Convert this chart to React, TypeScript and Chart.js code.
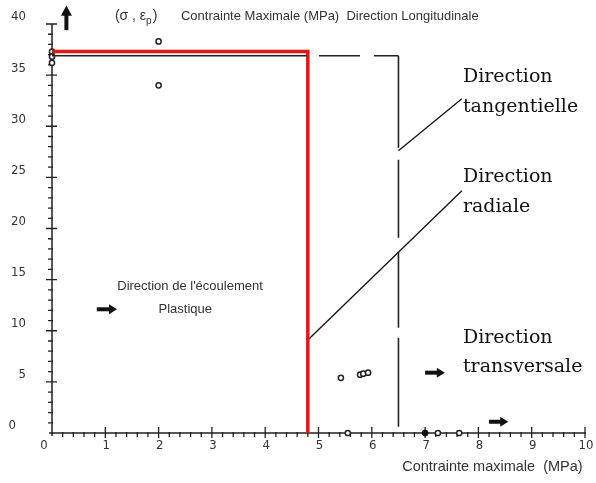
import React, { useEffect, useRef } from "react";
import { Chart, registerables } from "chart.js";

Chart.register(...registerables);

// ---- Data ----
const xTickLabels = ["0", "1", "2", "3", "4", "5", "6", "7", "8", "9", "10"];
const yTickLabels = ["0", "5", "10", "15", "20", "25", "30", "35", "40"];

// Direction radiale (red)
const radialX = [0, 4.8, 4.8];
const radialY = [37.3, 37.3, 0];

// Direction tangentielle (dashed): horizontal part and vertical part
const tangHX = [0, 6.5];
const tangHY = [36.9, 36.9];
const tangVX = [6.5, 6.5];
const tangVY = [36.9, 0.6];

// Measured points (open)
const pointsX = [0, 0, 0, 2, 2, 5.42, 5.78, 5.84, 5.93, 5.55, 7.24, 7.64];
const pointsY = [37.3, 36.8, 36.2, 38.3, 34.0, 5.4, 5.7, 5.8, 5.9, 0, 0, 0];
// Filled point
const filledX = [7.0];
const filledY = [0];

// Leader lines (label connectors)
const leaderTangX = [6.5, 7.69];
const leaderTangY = [27.6, 32.7];
const leaderRadX = [4.8, 7.69];
const leaderRadY = [9.1, 23.7];

const zip = (xs: number[], ys: number[]) => xs.map((x, i) => ({ x, y: ys[i] }));

export default function App() {
  const ref = useRef<HTMLCanvasElement | null>(null);

  useEffect(() => {
    document.body.style.margin = "0";
    const canvas = ref.current;
    if (!canvas) return;

    const serif = "'DejaVu Serif', 'Liberation Serif', serif";
    const sans = "'Liberation Sans', Arial, sans-serif";
    const narrow = "'Liberation Sans Narrow', 'DejaVu Sans Condensed', 'Liberation Sans', sans-serif";

    const arrowRight = (ctx: CanvasRenderingContext2D, x0: number, x1: number, y: number) => {
      ctx.save();
      ctx.fillStyle = "#111";
      const head = 8;
      ctx.fillRect(x0, y - 2, x1 - x0 - head + 1, 4);
      ctx.beginPath();
      ctx.moveTo(x1 - head, y - 5);
      ctx.lineTo(x1, y);
      ctx.lineTo(x1 - head, y + 5);
      ctx.closePath();
      ctx.fill();
      ctx.restore();
    };

    const decor = {
      id: "decor",
      beforeDatasetsDraw(chart: any) {
        const ctx: CanvasRenderingContext2D = chart.ctx;
        const xs = chart.scales.x;
        const ys = chart.scales.y;
        const X = (v: number) => xs.getPixelForValue(v);
        const Y = (v: number) => ys.getPixelForValue(v);
        ctx.save();
        ctx.strokeStyle = "#222";
        ctx.lineWidth = 1.5;
        // axes
        ctx.beginPath();
        ctx.moveTo(X(0), Y(40));
        ctx.lineTo(X(0), Y(0) + 3);
        ctx.moveTo(X(0) - 3, Y(0));
        ctx.lineTo(X(10) + 1, Y(0));
        ctx.stroke();
        // y ticks
        ctx.lineWidth = 1.3;
        ctx.beginPath();
        for (let v = 1; v <= 40; v++) {
          const py = Y(v);
          if (v % 5 === 0) {
            ctx.moveTo(X(0) - 6, py);
            ctx.lineTo(X(0) + 5, py);
          } else {
            ctx.moveTo(X(0) - 4, py);
            ctx.lineTo(X(0) + 1, py);
          }
        }
        // x ticks
        for (let i = 1; i <= 50; i++) {
          const v = i * 0.2;
          const px = X(v);
          if (i % 5 === 0) {
            ctx.moveTo(px, Y(0) - 6);
            ctx.lineTo(px, Y(0) + 5);
          } else {
            ctx.moveTo(px, Y(0) - 1);
            ctx.lineTo(px, Y(0) + 4);
          }
        }
        ctx.stroke();

        // tick labels
        ctx.fillStyle = "#333";
        ctx.font = `13px ${narrow}`;
        ctx.textBaseline = "middle";
        yTickLabels.forEach((t) => {
          const v = parseFloat(t);
          ctx.textAlign = "right";
          const rx = v === 0 ? X(0) - 36 : X(0) - 26;
          ctx.fillText(t, rx, Y(v) - 7);
        });
        xTickLabels.forEach((t) => {
          const v = parseFloat(t);
          ctx.textAlign = "center";
          const cx = v === 0 ? X(0) - 8 : X(v) + 1;
          ctx.fillText(t, cx, Y(0) + 13);
        });
        ctx.restore();
      },
      afterDatasetsDraw(chart: any) {
        const ctx: CanvasRenderingContext2D = chart.ctx;
        const xs = chart.scales.x;
        const ys = chart.scales.y;
        const X = (v: number) => xs.getPixelForValue(v);
        const Y = (v: number) => ys.getPixelForValue(v);
        ctx.save();
        ctx.textBaseline = "middle";

        // serif labels
        ctx.fillStyle = "#111";
        ctx.font = `19px ${serif}`;
        ctx.textAlign = "left";
        const lx = X(7.71);
        ctx.fillText("Direction", lx, Y(34.8));
        ctx.fillText("tangentielle", lx, Y(31.9));
        ctx.fillText("Direction", lx, Y(25.0));
        ctx.fillText("radiale", lx, Y(22.1));
        ctx.fillText("Direction", lx, Y(9.3));
        ctx.fillText("transversale", lx, Y(6.45));

        // top header
        ctx.fillStyle = "#333";
        ctx.font = `13px ${sans}`;
        ctx.fillText("Contrainte Maximale (MPa)  Direction Longitudinale", X(2.42), Y(40.7));
        ctx.font = `14px ${sans}`;
        const sx = X(1.18);
        const sy = Y(40.75);
        ctx.fillText("(σ , ε", sx, sy);
        const w = ctx.measureText("(σ , ε").width;
        ctx.font = `10px ${sans}`;
        ctx.fillText("p", sx + w, sy + 5);
        const w2 = ctx.measureText("p").width;
        ctx.font = `14px ${sans}`;
        ctx.fillText(")", sx + w + w2 + 1, sy);

        // up arrow
        ctx.fillStyle = "#111";
        const ax = X(0.27);
        ctx.fillRect(ax - 2, Y(41.2), 4, Y(39.4) - Y(41.2));
        ctx.beginPath();
        ctx.moveTo(ax - 5.5, Y(40.8));
        ctx.lineTo(ax, Y(41.8));
        ctx.lineTo(ax + 5.5, Y(40.8));
        ctx.closePath();
        ctx.fill();

        // plastic flow text
        ctx.fillStyle = "#333";
        ctx.font = `13px ${sans}`;
        ctx.textAlign = "center";
        ctx.fillText("Direction de l'écoulement", X(2.59), Y(14.3));
        ctx.fillText("Plastique", X(2.5), Y(12.1));

        // bottom axis title
        ctx.textAlign = "left";
        ctx.font = `14.5px ${sans}`;
        ctx.fillText("Contrainte maximale  (MPa)", X(6.57), Y(-3.3));

        // right arrows
        arrowRight(ctx, X(0.84), X(1.22), Y(12.1));
        arrowRight(ctx, X(7.0), X(7.37), Y(5.9));
        arrowRight(ctx, X(8.2), X(8.56), Y(1.1));
        ctx.restore();
      },
    };

    const chart = new Chart(canvas, {
      type: "scatter",
      data: {
        datasets: [
          {
            label: "Direction tangentielle (h)",
            data: zip(tangHX, tangHY),
            showLine: true,
            borderColor: "#222",
            borderWidth: 1.6,
            borderDash: [255, 12, 41, 14],
            pointRadius: 0,
            clip: false,
          } as any,
          {
            label: "Direction tangentielle (v)",
            data: zip(tangVX, tangVY),
            showLine: true,
            borderColor: "#222",
            borderWidth: 1.6,
            borderDash: [92, 12, 78, 14, 76, 10],
            pointRadius: 0,
            clip: false,
          } as any,
          {
            label: "Direction radiale",
            data: zip(radialX, radialY),
            showLine: true,
            borderColor: "#f01010",
            borderWidth: 3.5,
            pointRadius: 0,
            clip: false,
          } as any,
          {
            label: "leader tang",
            data: zip(leaderTangX, leaderTangY),
            showLine: true,
            borderColor: "#111",
            borderWidth: 1.3,
            pointRadius: 0,
          },
          {
            label: "leader rad",
            data: zip(leaderRadX, leaderRadY),
            showLine: true,
            borderColor: "#111",
            borderWidth: 1.3,
            pointRadius: 0,
          },
          {
            label: "points",
            data: zip(pointsX, pointsY),
            showLine: false,
            pointRadius: 2.6,
            pointBorderWidth: 1.5,
            pointBackgroundColor: "#fff",
            pointBorderColor: "#222",
            clip: false,
          } as any,
          {
            label: "filled",
            data: zip(filledX, filledY),
            showLine: false,
            pointRadius: 3,
            pointBorderWidth: 1,
            pointBackgroundColor: "#111",
            pointBorderColor: "#111",
            clip: false,
          } as any,
        ],
      },
      options: {
        responsive: false,
        maintainAspectRatio: false,
        animation: false,
        layout: { padding: { left: 52, right: 11, top: 24, bottom: 50 } },
        plugins: { legend: { display: false }, tooltip: { enabled: false } },
        scales: {
          x: { type: "linear", min: 0, max: 10, display: false },
          y: { type: "linear", min: 0, max: 40, display: false },
        },
      },
      plugins: [decor],
    });
    return () => chart.destroy();
  }, []);

  return (
    <div style={{ width: 596, height: 483, background: "#fff" }}>
      <canvas ref={ref} width={596} height={483} style={{ width: 596, height: 483, display: "block" }} />
    </div>
  );
}
